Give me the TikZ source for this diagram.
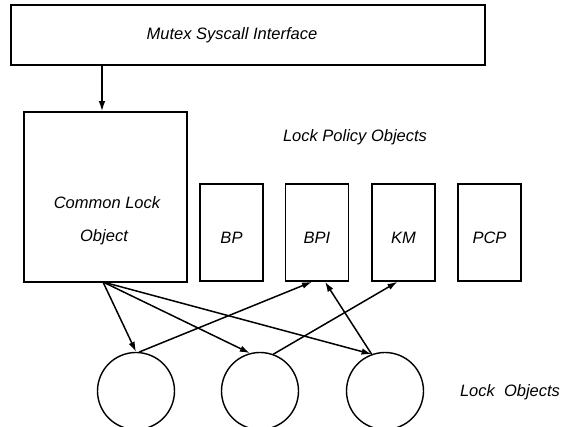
\documentclass[tikz,border=0pt]{standalone}
\usepackage{fontspec}
\setmainfont{Liberation Sans}
\usetikzlibrary{arrows.meta}
\begin{document}
\begin{tikzpicture}[x=1pt,y=-1pt,
  every node/.style={font=\itshape\fontsize{16.5}{20}\selectfont},
  box/.style={draw,line width=1.6pt,inner sep=0pt},
  lockobj/.style={draw,circle,line width=1.4pt,minimum size=77pt,inner sep=0pt},
  link/.style={line width=1.5pt,-{Latex[length=10pt,width=6.5pt]}},
  lbl/.style={inner sep=0pt}]
\useasboundingbox (0,0) rectangle (574,427);
% syscall layer
\node[box,minimum width=474pt,minimum height=60pt] (sys) at (248,35) {};
\node[lbl] (systxt) at (232,35) {Mutex Syscall Interface};
% common lock object
\node[box,minimum width=163pt,minimum height=170pt] (clo) at (105.5,197) {};
\node[lbl] (clotxt1) at (107,203) {Common Lock};
\node[lbl] (clotxt2) at (104,237) {Object};
% policy objects
\foreach \nm/\cx in {bp/231.5,bpi/317,km/403.5,pcp/489.5}
  \node[box,minimum width=63pt,minimum height=97pt] (\nm) at (\cx,232.5) {};
\node[lbl] at ([yshift=-5.5pt]bp)  {BP};
\node[lbl] at ([yshift=-5.5pt]bpi) {BPI};
\node[lbl] at ([yshift=-5.5pt]km)  {KM};
\node[lbl] at ([yshift=-5.5pt]pcp) {PCP};
\node[lbl] (poltxt) at (355,137) {Lock Policy Objects};
% lock objects
\node[lockobj] (l1) at (136,391) {};
\node[lockobj] (l2) at (260,391) {};
\node[lockobj] (l3) at (385,391) {};
\node[lbl] (locktxt) at (510,392) {Lock\ \ Objects};
% connectors
\coordinate (sysout) at (102,65);
\draw[link] (sysout) -- (sysout |- clo.north);
\coordinate (cb) at (103,282);
\draw[link] (cb) -- (l1.north);
\draw[link] (cb) -- (l2.105);
\draw[link] (cb) -- (l3.110);
\draw[link] (l1.85) -- ([xshift=-5pt]bpi.south);
\draw[link] (l2.70) -- ([xshift=-6pt]km.south);
\draw[link] (l3.110) -- ([xshift=8pt]bpi.south);
\end{tikzpicture}
\end{document}
